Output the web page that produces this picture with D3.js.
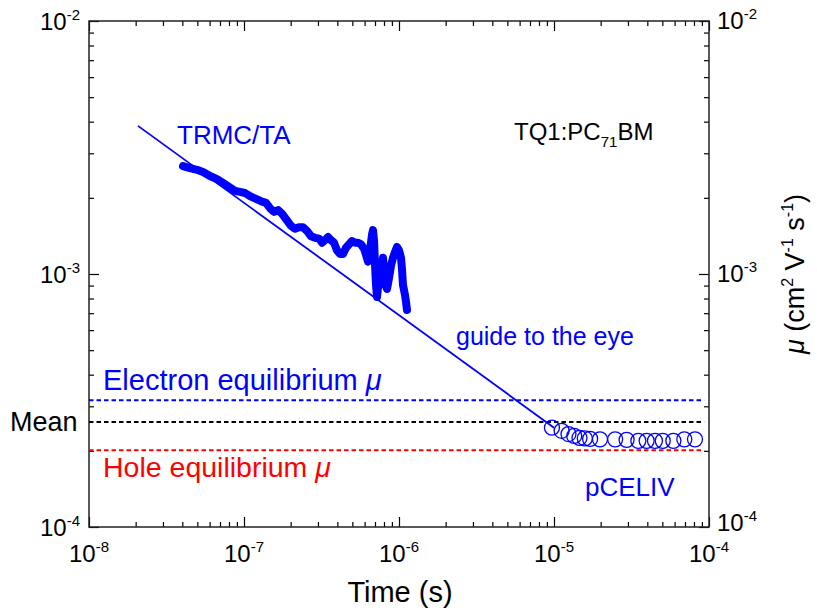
<!DOCTYPE html>
<html>
<head>
<meta charset="utf-8">
<script src="https://cdn.jsdelivr.net/npm/d3@7"></script>
<style>
  html, body { margin: 0; padding: 0; background: #fff; }
  svg { display: block; font-family: "Liberation Sans", Arial, sans-serif; }
</style>
</head>
<body>
<svg id="chart" width="817" height="614"></svg>
<script>
// Time (s) and mobility (cm^2 V^-1 s^-1) of the TRMC/TA transient
const trmcTime = [
  4.04e-8, 4.48e-8, 4.98e-8, 5.44e-8, 6.03e-8, 6.70e-8, 7.32e-8, 8.00e-8, 8.75e-8, 9.42e-8,
  1.015e-7, 1.093e-7, 1.195e-7, 1.287e-7, 1.387e-7, 1.472e-7, 1.561e-7, 1.657e-7, 1.759e-7, 1.894e-7,
  2.010e-7, 2.133e-7, 2.263e-7, 2.402e-7, 2.550e-7, 2.706e-7, 2.872e-7, 3.048e-7, 3.186e-7, 3.331e-7,
  3.483e-7, 3.641e-7, 3.807e-7, 3.981e-7, 4.162e-7, 4.352e-7, 4.550e-7, 4.757e-7, 4.975e-7, 5.202e-7,
  5.439e-7, 5.686e-7, 5.945e-7, 6.125e-7, 6.310e-7, 6.501e-7, 6.696e-7, 6.797e-7, 6.898e-7, 7.002e-7,
  7.106e-7, 7.213e-7, 7.320e-7, 7.541e-7, 7.769e-7, 7.886e-7, 8.003e-7, 8.124e-7, 8.369e-7, 8.621e-7,
  8.882e-7, 9.150e-7, 9.423e-7, 9.707e-7, 1.000e-6, 1.030e-6, 1.046e-6, 1.061e-6, 1.093e-6, 1.110e-6,
  1.126e-6];
const trmcMu = [
  2.67e-3, 2.62e-3, 2.58e-3, 2.53e-3, 2.44e-3, 2.37e-3, 2.29e-3, 2.21e-3, 2.13e-3, 2.11e-3,
  2.09e-3, 2.03e-3, 1.98e-3, 1.94e-3, 1.91e-3, 1.82e-3, 1.76e-3, 1.79e-3, 1.73e-3, 1.63e-3,
  1.55e-3, 1.51e-3, 1.53e-3, 1.53e-3, 1.48e-3, 1.41e-3, 1.39e-3, 1.38e-3, 1.33e-3, 1.36e-3,
  1.40e-3, 1.36e-3, 1.33e-3, 1.24e-3, 1.20e-3, 1.20e-3, 1.27e-3, 1.31e-3, 1.35e-3, 1.33e-3,
  1.33e-3, 1.31e-3, 1.26e-3, 1.19e-3, 1.12e-3, 1.24e-3, 1.43e-3, 1.49e-3, 1.36e-3, 1.09e-3,
  9.05e-4, 8.11e-4, 8.81e-4, 9.21e-4, 1.09e-3, 1.16e-3, 1.04e-3, 9.21e-4, 8.73e-4, 9.64e-4,
  1.08e-3, 1.16e-3, 1.22e-3, 1.28e-3, 1.24e-3, 1.16e-3, 1.04e-3, 9.05e-4, 8.26e-4, 7.75e-4,
  7.21e-4];

// pCELIV mobilities
const celivTime = [9.7e-6, 1.12e-5, 1.24e-5, 1.35e-5, 1.46e-5, 1.58e-5, 1.71e-5, 1.98e-5, 2.48e-5,
  2.94e-5, 3.50e-5, 3.96e-5, 4.48e-5, 5.03e-5, 5.89e-5, 6.93e-5, 8.12e-5];
const celivMu = [2.47e-4, 2.40e-4, 2.33e-4, 2.29e-4, 2.25e-4, 2.24e-4, 2.23e-4, 2.22e-4, 2.22e-4,
  2.21e-4, 2.19e-4, 2.19e-4, 2.19e-4, 2.19e-4, 2.19e-4, 2.22e-4, 2.22e-4];

// Guide-to-the-eye power law endpoints
const guideTime = [2.07e-8, 1.0e-5];
const guideMu = [3.85e-3, 2.47e-4];

// Equilibrium mobilities (horizontal reference lines)
const refNames = ["Electron", "Mean", "Hole"];
const refMu = [3.17e-4, 2.60e-4, 2.01e-4];
const refColors = ["#0000ff", "#000000", "#ff0000"];
const refSpan = [1e-8, 9.3e-5];

// Axis decades
const xDecades = [-8, -7, -6, -5, -4];
const yDecades = [-4, -3, -2];

(function draw() {
  const svg = d3.select("#chart");
  const pL = 89, pR = 709, pT = 21, pB = 527;

  const x = d3.scaleLog().domain([1e-8, 1e-4]).range([pL, pR]);
  const y = d3.scaleLog().domain([1e-4, 1e-2]).range([pB, pT]);

  // Major and minor tick values
  const xMajor = xDecades.map(e => Math.pow(10, e));
  const yMajor = yDecades.map(e => Math.pow(10, e));
  const minorOf = (decs) => {
    const out = [];
    for (let i = 0; i < decs.length - 1; i++) {
      for (let m = 2; m <= 9; m++) out.push(m * Math.pow(10, decs[i]));
    }
    return out;
  };
  const xMinor = minorOf(xDecades);
  const yMinor = minorOf(yDecades);

  const majorLen = 10, minorLen = 5;

  function styleAxis(g) {
    g.select(".domain").remove();
    g.selectAll(".tick line").attr("stroke", "#000").attr("stroke-width", 1.2);
  }

  // Ticks on all four sides, pointing inward
  const sides = [
    [d3.axisBottom(x), `translate(0,${pB})`, xMajor, xMinor],
    [d3.axisTop(x), `translate(0,${pT})`, xMajor, xMinor],
    [d3.axisLeft(y), `translate(${pL},0)`, yMajor, yMinor],
    [d3.axisRight(y), `translate(${pR},0)`, yMajor, yMinor]
  ];
  sides.forEach(([ax, tr, maj, min]) => {
    svg.append("g").attr("transform", tr)
      .call(ax.tickValues(maj).tickSize(-majorLen).tickFormat(() => "")).call(styleAxis);
    svg.append("g").attr("transform", tr)
      .call(ax.tickValues(min).tickSize(-minorLen).tickFormat(() => "")).call(styleAxis);
  });

  // Frame
  svg.append("rect")
    .attr("x", pL).attr("y", pT)
    .attr("width", pR - pL).attr("height", pB - pT)
    .attr("fill", "none").attr("stroke", "#222").attr("stroke-width", 1.5);

  // Power-of-ten label helper
  function powLabel(sel, exp, anchor) {
    const t = sel.append("text")
      .attr("text-anchor", anchor)
      .attr("font-size", 24)
      .attr("fill", "#000");
    t.append("tspan").text("10");
    t.append("tspan").attr("font-size", 15).attr("dy", -10).text(String(exp));
    return t;
  }

  xDecades.forEach(e => {
    const g = svg.append("g").attr("transform", `translate(${x(Math.pow(10, e))},562)`);
    powLabel(g, e, "middle");
  });
  yDecades.forEach(e => {
    const gl = svg.append("g").attr("transform", `translate(80,${y(Math.pow(10, e)) + 9})`);
    powLabel(gl, e, "end");
    // the lowest right-hand label sits a little higher to clear the x-axis label below it
    const off = e === -4 ? 4 : 8;
    const gr = svg.append("g").attr("transform", `translate(717,${y(Math.pow(10, e)) + off})`);
    powLabel(gr, e, "start");
  });

  // Axis titles
  svg.append("text")
    .attr("x", 400).attr("y", 602)
    .attr("text-anchor", "middle")
    .attr("font-size", 29)
    .text("Time (s)");

  const yt = svg.append("text")
    .attr("transform", `translate(804,${(pT + pB) / 2}) rotate(-90)`)
    .attr("text-anchor", "middle")
    .attr("font-size", 27);
  yt.append("tspan").attr("font-style", "italic").text("μ");
  yt.append("tspan").text(" (cm");
  yt.append("tspan").attr("font-size", 16).attr("dy", -11).text("2");
  yt.append("tspan").attr("dy", 11).text(" V");
  yt.append("tspan").attr("font-size", 16).attr("dy", -11).text("-1");
  yt.append("tspan").attr("dy", 11).text(" s");
  yt.append("tspan").attr("font-size", 16).attr("dy", -11).text("-1");
  yt.append("tspan").attr("dy", 11).text(")");

  // Reference lines
  refMu.forEach((m, i) => {
    svg.append("line")
      .attr("x1", x(refSpan[0])).attr("x2", x(refSpan[1]))
      .attr("y1", y(m)).attr("y2", y(m))
      .attr("stroke", refColors[i])
      .attr("stroke-width", 2)
      .attr("stroke-dasharray", "4.5,3");
  });

  // Guide line
  const line = d3.line().x(d => x(d[0])).y(d => y(d[1]));
  svg.append("path")
    .attr("d", line(guideTime.map((t, i) => [t, guideMu[i]])))
    .attr("fill", "none").attr("stroke", "#0000ff").attr("stroke-width", 1.8);

  // TRMC/TA transient
  svg.append("path")
    .attr("d", line(trmcTime.map((t, i) => [t, trmcMu[i]])))
    .attr("fill", "none").attr("stroke", "#0000ff")
    .attr("stroke-width", 8)
    .attr("stroke-linejoin", "round").attr("stroke-linecap", "round");

  // pCELIV points
  svg.append("g").selectAll("circle")
    .data(celivTime.map((t, i) => [t, celivMu[i]]))
    .join("circle")
    .attr("cx", d => x(d[0])).attr("cy", d => y(d[1]))
    .attr("r", 7.5)
    .attr("fill", "none").attr("stroke", "#0000ff").attr("stroke-width", 1.3);

  // Annotations
  function label(txt, px, py, color, size) {
    return svg.append("text").attr("x", px).attr("y", py)
      .attr("fill", color).attr("font-size", size).text(txt);
  }
  label("TRMC/TA", 177, 144, "#0000ff", 26);
  label("guide to the eye", 456, 345, "#0000ff", 25);
  label("pCELIV", 585, 496, "#0000ff", 26);
  label("Mean", 10, 431, "#000", 27);

  const el = svg.append("text").attr("x", 103).attr("y", 390).attr("fill", "#0000ff").attr("font-size", 29);
  el.append("tspan").text("Electron equilibrium ");
  el.append("tspan").attr("font-style", "italic").text("μ");
  const ho = svg.append("text").attr("x", 103).attr("y", 477).attr("fill", "#ff0000").attr("font-size", 28.5);
  ho.append("tspan").text("Hole equilibrium ");
  ho.append("tspan").attr("font-style", "italic").text("μ");

  const tq = svg.append("text").attr("x", 514).attr("y", 140).attr("fill", "#000").attr("font-size", 24);
  tq.append("tspan").text("TQ1:PC");
  tq.append("tspan").attr("font-size", 15).attr("dy", 7).text("71");
  tq.append("tspan").attr("dy", -7).text("BM");
})();
</script>
</body>
</html>
